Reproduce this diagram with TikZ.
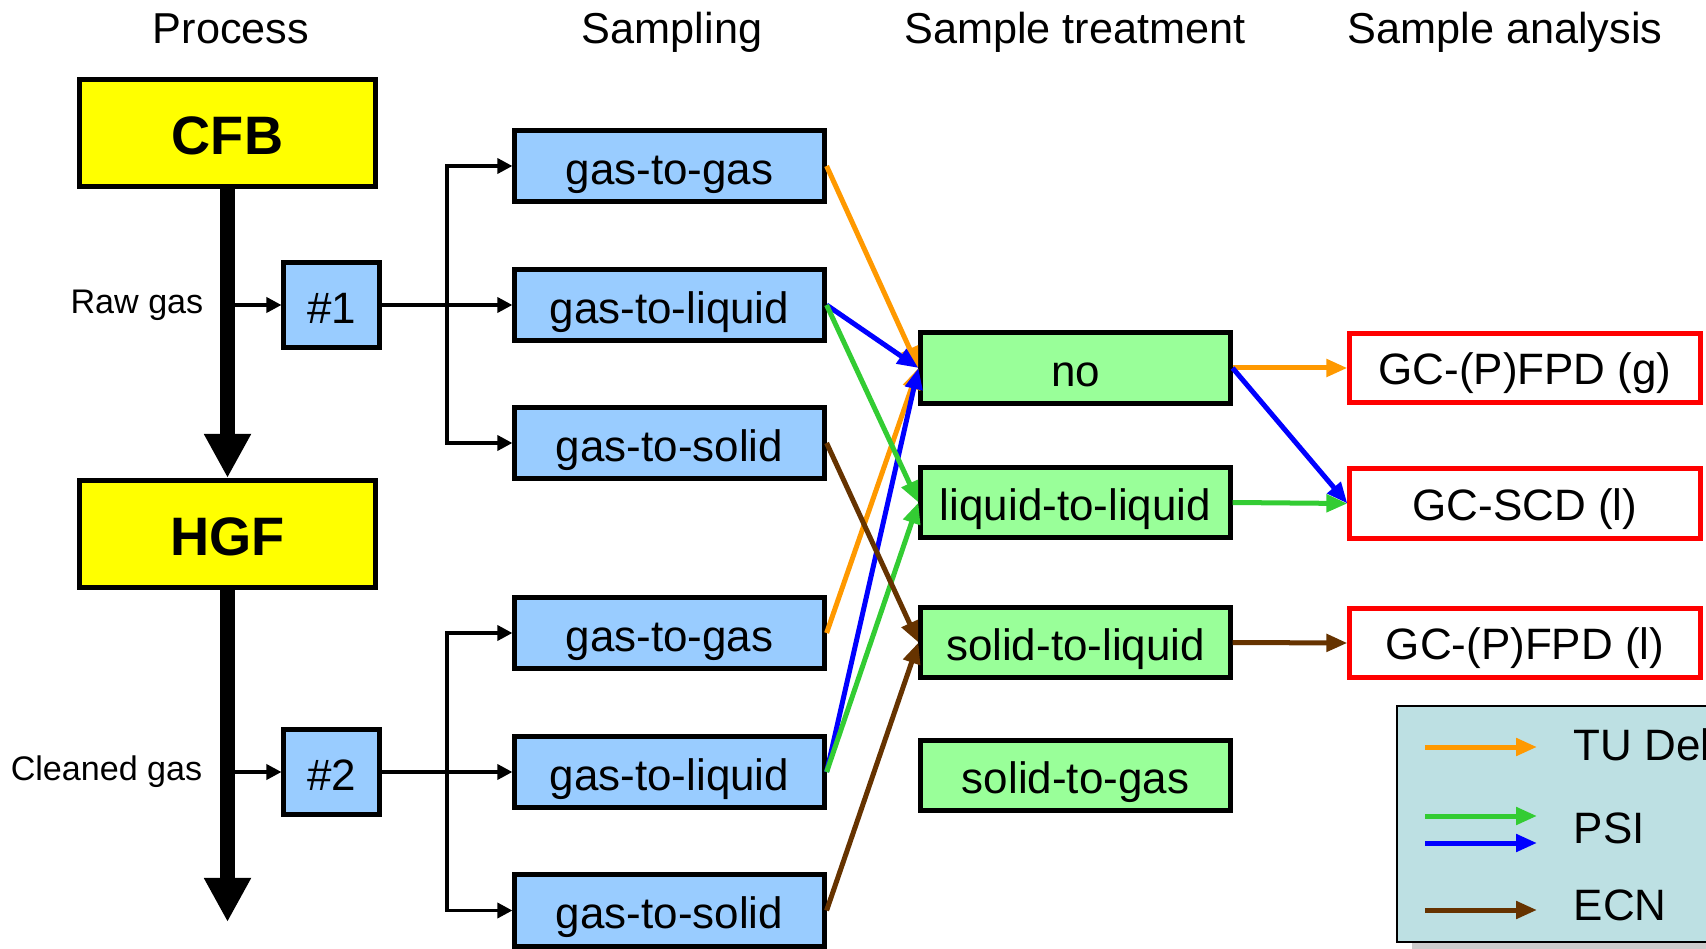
\documentclass[tikz,border=0pt]{standalone}
\usepackage{fontspec}
\setmainfont{Liberation Sans}
\usetikzlibrary{arrows.meta}

\definecolor{procyellow}{RGB}{255,255,0}
\definecolor{sampblue}{RGB}{153,204,255}
\definecolor{treatgreen}{RGB}{153,255,153}
\definecolor{tudorange}{RGB}{255,153,0}
\definecolor{psigreen}{RGB}{51,204,51}
\definecolor{psiblue}{RGB}{0,0,255}
\definecolor{ecnbrown}{RGB}{102,51,0}
\definecolor{legendfill}{RGB}{189,224,227}

\begin{document}
\begin{tikzpicture}[x=0.01cm,y=-0.01cm,
	txt/.style={font=\fontsize{12.5}{15}\selectfont},
	hdr/.style={font=\fontsize{12.3}{15}\selectfont,anchor=base,inner sep=0pt},
	small/.style={font=\fontsize{9.7}{12}\selectfont,anchor=east,inner sep=0pt},
	box/.style={txt,draw,line width=0.05cm,inner sep=0pt,minimum height=0.70cm,text height=0.36cm,text depth=0cm},
	procbox/.style={box,fill=procyellow,minimum width=2.96cm,minimum height=1.07cm,text height=0.42cm,font=\fontsize{15.4}{18}\selectfont\bfseries},
	portbox/.style={box,fill=sampblue,minimum width=0.95cm,minimum height=0.84cm},
	sampbox/.style={box,fill=sampblue,minimum width=3.09cm,minimum height=0.71cm},
	treatbox/.style={box,fill=treatgreen,minimum width=3.09cm},
	anabox/.style={box,draw=red,fill=white,minimum width=3.50cm,minimum height=0.69cm,text height=0.33cm},
	big/.style={line width=0.15cm,-{Triangle[length=0.44cm,width=0.44cm]}},
	feed/.style={line width=0.035cm,-{Triangle[length=0.15cm,width=0.15cm]}},
	flow/.style={line width=0.05cm,-{Triangle[length=0.21cm,width=0.17cm]}}]
				\useasboundingbox (0,0) rectangle (1706,949);

				% column titles
				\node[hdr] (hproc) at (231,44) {Process};
				\node[hdr] (hsamp) at (672,44) {Sampling};
				\node[hdr] (htreat) at (1075,44) {Sample treatment};
				\node[hdr] (hana) at (1505,44) {Sample analysis};

				% process line
				\node[procbox] (cfb) at (227.5,133) {CFB};
				\node[procbox] (hgf) at (227.5,534) {HGF};
				\coordinate (out) at (227.5,922);
				\draw[big] (cfb) -- (hgf);
				\draw[big] (hgf) -- (out);

				% sampling ports
				\node[portbox] (p1) at (331.5,305) {\#1};
				\node[portbox] (p2) at (331.5,772) {\#2};
				\node[small] (raw) at (204,305) {Raw gas};
				\node[small] (clean) at (203,772) {Cleaned gas};
				\coordinate (tap1) at (235,305);
				\coordinate (tap2) at (235,772);
				\draw[feed] (tap1) -- (p1);
				\draw[feed] (tap2) -- (p2);

				% sampling methods
				\node[sampbox] (gg1) at (669.5,166) {gas-to-gas};
				\node[sampbox] (gl1) at (669.5,305) {gas-to-liquid};
				\node[sampbox] (gs1) at (669.5,443) {gas-to-solid};
				\node[sampbox] (gg2) at (669.5,633) {gas-to-gas};
				\node[sampbox] (gl2) at (669.5,772) {gas-to-liquid};
				\node[sampbox] (gs2) at (669.5,910.5) {gas-to-solid};

				\coordinate (s1) at (447,305);
				\coordinate (s2) at (447,772);
				\draw[feed] (p1) -- (gl1);
				\draw[feed] (s1) |- (gg1);
				\draw[feed] (s1) |- (gs1);
				\draw[feed] (p2) -- (gl2);
				\draw[feed] (s2) |- (gg2);
				\draw[feed] (s2) |- (gs2);

				% treatment and analysis
				\node[treatbox] (no) at (1075.5,368) {no};
				\node[treatbox] (ll) at (1075.5,502.5) {liquid-to-liquid};
				\node[treatbox] (sl) at (1075.5,642.5) {solid-to-liquid};
				\node[treatbox] (sg) at (1075.5,775.5) {solid-to-gas};
				\node[anabox] (fpdg) at (1525,368) {GC-(P)FPD (g)};
				\node[anabox] (scd) at (1525,503.5) {GC-SCD (l)};
				\node[anabox] (fpdl) at (1525,643) {GC-(P)FPD (l)};

				\draw[flow,tudorange] (gg1.east) -- (no.west);
				\draw[flow,tudorange] (gg2.east) -- (no.west);
				\draw[flow,psiblue] (gl1.east) -- (no.west);
				\draw[flow,psiblue] (gl2.east) -- (no.west);
				\draw[flow,psigreen] (gl1.east) -- (ll.west);
				\draw[flow,psigreen] (gl2.east) -- (ll.west);
				\draw[flow,ecnbrown] (gs1.east) -- (sl.west);
				\draw[flow,ecnbrown] (gs2.east) -- (sl.west);
				\draw[flow,tudorange] (no.east) -- (fpdg.west);
				\draw[flow,psiblue] (no.east) -- (scd.west);
				\draw[flow,psigreen] (ll.east) -- (scd.west);
				\draw[flow,ecnbrown] (sl.east) -- (fpdl.west);

				% legend
				\fill[gray!40] (1412,943) rectangle (1706,949);
				\fill[legendfill] (1397,706) rectangle (1706,942);
				\draw[line width=0.6pt] (1706,706) -- (1397,706) -- (1397,942) -- (1706,942);
				\coordinate (ltud) at (1425,747);
				\coordinate (lgreen) at (1425,816);
				\coordinate (lblue) at (1425,843);
				\coordinate (lecn) at (1425,910);
				\draw[flow,tudorange] (ltud) -- ++(112,0);
				\draw[flow,psigreen] (lgreen) -- ++(112,0);
				\draw[flow,psiblue] (lblue) -- ++(112,0);
				\draw[flow,ecnbrown] (lecn) -- ++(112,0);
				\node[txt,anchor=west,inner sep=0pt] (tud) at (1573,745) {TU Del};
				\node[txt,anchor=west,inner sep=0pt] (psi) at (1573,828) {PSI};
				\node[txt,anchor=west,inner sep=0pt] (ecn) at (1573,905) {ECN};

			\end{tikzpicture}
\end{document}
